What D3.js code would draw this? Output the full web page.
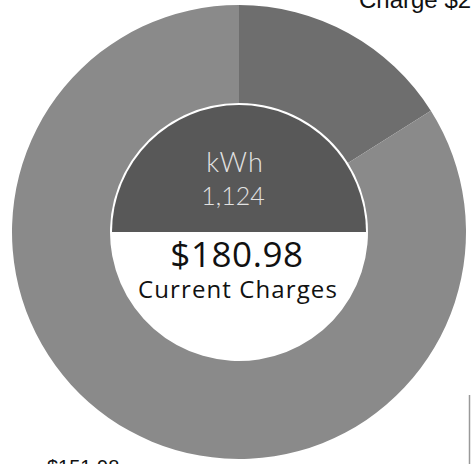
<!DOCTYPE html>
<html><head><meta charset="utf-8">
<script src="https://cdn.jsdelivr.net/npm/d3@7"></script>
<style>html,body{margin:0;padding:0;background:#fff;overflow:hidden}</style>
</head><body>
<script>
const categories = ["Customer Charge", "Energy Charge"];
const values = [29.00, 151.98];
const labelTexts = ["Charge $29.00", "$151.98"];
const colors = ["#6e6e6e", "#8a8a8a"];
const totalLabel = "$180.98";
const totalCaption = "Current Charges";
const kwhLabel = "kWh";
const kwhValue = "1,124";

const W = 471, H = 464;
const cx = 239, cy = 232, R = 227, r = 129, rInner = 127;

const svg = d3.select("body").append("svg").attr("width", W).attr("height", H);
const color = d3.scaleOrdinal().domain(categories).range(colors);
const pie = d3.pie().sort(null).value(d => d.v);
const data = pie(categories.map((c, i) => ({c, v: values[i]})));
const arc = d3.arc().innerRadius(r).outerRadius(R);

const g = svg.append("g").attr("transform", `translate(${cx},${cy})`);
g.selectAll("path.slice").data(data).join("path")
  .attr("class", "slice")
  .attr("d", arc)
  .attr("fill", d => color(d.data.c));

// inner disk: dark top half, white bottom half
svg.append("clipPath").attr("id", "topHalf").append("rect")
  .attr("x", -R).attr("y", -R).attr("width", 2 * R).attr("height", R);
g.append("circle").attr("r", rInner).attr("fill", "#585858").attr("clip-path", "url(#topHalf)");

g.append("text").attr("x", -4).attr("y", -60).attr("text-anchor", "middle")
  .attr("font-family", "Lato, 'Open Sans', sans-serif").attr("font-weight", 300)
  .attr("font-size", 27).attr("letter-spacing", 1).attr("fill", "#e2e2e2").text(kwhLabel);
g.append("text").attr("x", -6).attr("y", -27).attr("text-anchor", "middle")
  .attr("font-family", "Lato, 'Open Sans', sans-serif").attr("font-weight", 300)
  .attr("font-size", 25).attr("fill", "#e2e2e2").text(kwhValue);

g.append("text").attr("x", -2).attr("y", 35).attr("text-anchor", "middle")
  .attr("font-family", "'Open Sans', sans-serif").attr("font-weight", 400)
  .attr("font-size", 35).attr("letter-spacing", 0.6).attr("fill", "#111").text(totalLabel);
g.append("text").attr("x", -1).attr("y", 66).attr("text-anchor", "middle")
  .attr("font-family", "'Open Sans', sans-serif").attr("font-weight", 400)
  .attr("font-size", 24).attr("letter-spacing", 1.1).attr("fill", "#111").text(totalCaption);

// edge labels (partly outside the frame, as in the scanned source)
svg.append("text").attr("x", 359).attr("y", 8)
  .attr("font-family", "'Liberation Sans', Arial, sans-serif").attr("font-size", 24)
  .attr("fill", "#111").text(labelTexts[0]);
svg.append("text").attr("x", 47).attr("y", 474)
  .attr("font-family", "'Liberation Sans', Arial, sans-serif").attr("font-size", 20)
  .attr("fill", "#111").text(labelTexts[1]);

svg.append("line").attr("x1", 469.5).attr("x2", 469.5).attr("y1", 395).attr("y2", 464)
  .attr("stroke", "#999").attr("stroke-width", 1.5);
</script>
</body></html>
